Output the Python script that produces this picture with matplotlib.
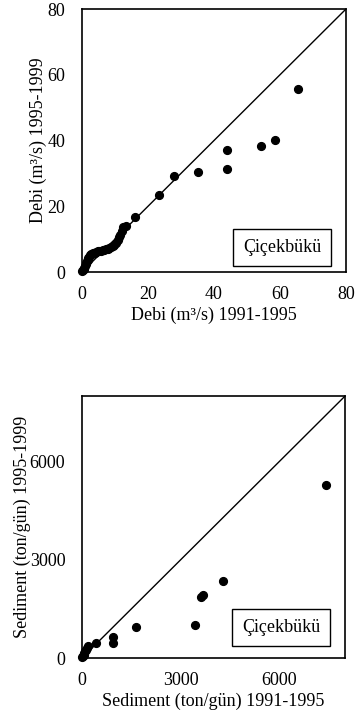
import matplotlib
matplotlib.use('Agg')
import matplotlib.pyplot as plt

plt.rcParams['font.family'] = ['Liberation Serif', 'DejaVu Serif']

# Debi (m3/s): 1991-1995 vs 1995-1999
debi_9195 = [0.1, 0.3, 0.5, 0.7, 0.9, 1.1, 1.3, 1.5, 1.7, 1.9, 2.1, 2.4, 2.7, 3.0, 3.4, 3.8,
             4.3, 4.8, 5.3, 5.8, 6.3, 6.8, 7.3, 7.8, 8.3, 8.8, 9.3, 9.8, 10.3, 10.8, 11.2,
             11.5, 12.0, 12.3, 13.2, 16.2, 23.3, 28.0, 35.0, 43.8, 43.9, 54.3, 58.4, 65.5]
debi_9599 = [0.2, 0.5, 0.9, 1.3, 1.8, 2.3, 2.8, 3.3, 3.8, 4.3, 4.7, 5.1, 5.4, 5.6, 5.8, 5.9,
             6.1, 6.3, 6.4, 6.5, 6.6, 6.7, 6.9, 7.0, 7.2, 7.5, 7.9, 8.3, 8.9, 9.7, 10.5,
             11.3, 12.5, 13.7, 14.1, 16.6, 23.5, 29.1, 30.4, 31.2, 37.0, 38.4, 40.1, 55.7]

# Sediment (ton/gun): 1991-1995 vs 1995-1999
sed_9195 = [10, 30, 50, 70, 90, 120, 150, 190, 430, 930, 930, 1650, 3430, 3620, 3670, 4280, 7420]
sed_9599 = [20, 60, 100, 150, 200, 250, 300, 370, 470, 470, 630, 940, 1010, 1860, 1930, 2360, 5290]

station = 'Çiçekbükü'

fig = plt.figure(figsize=(3.57, 7.2), dpi=100)
ax1 = fig.add_axes([0.2297, 0.6222, 0.7395, 0.3653])
ax2 = fig.add_axes([0.2297, 0.0861, 0.7370, 0.3639])

panels = [
    (ax1, debi_9195, debi_9599, 80, [0, 20, 40, 60, 80],
     'Debi (m³/s) 1991-1995', 'Debi (m³/s) 1995-1999', 0.093, 0),
    (ax2, sed_9195, sed_9599, 8000, [0, 3000, 6000],
     'Sediment (ton/gün) 1991-1995', 'Sediment (ton/gün) 1995-1999', 0.116, -1),
]

for ax, xs, ys, top, ticks, xlab, ylab, box_y, ypad in panels:
    ax.plot([0, top], [0, top], color='black', linewidth=1.0, zorder=2)
    ax.plot(xs, ys, linestyle='None', marker='o', markersize=5.6, color='black',
            clip_on=False, zorder=3)
    ax.set_xlim(0, top)
    ax.set_ylim(0, top)
    ax.set_xticks(ticks)
    ax.set_yticks(ticks)
    ax.tick_params(length=0, labelsize=13)
    ax.tick_params(axis='x', pad=10)
    ax.tick_params(axis='y', pad=12)
    ax.set_xlabel(xlab, fontsize=13, labelpad=3)
    ax.set_ylabel(ylab, fontsize=13, labelpad=ypad)
    for s in ax.spines.values():
        s.set_linewidth(1.2)
    ax.text(0.758, box_y, station, transform=ax.transAxes, ha='center', va='center',
            fontsize=13,
            bbox=dict(boxstyle='square,pad=0.55', facecolor='white', edgecolor='black',
                      linewidth=1.0))

fig.savefig('out.png', dpi=100)
